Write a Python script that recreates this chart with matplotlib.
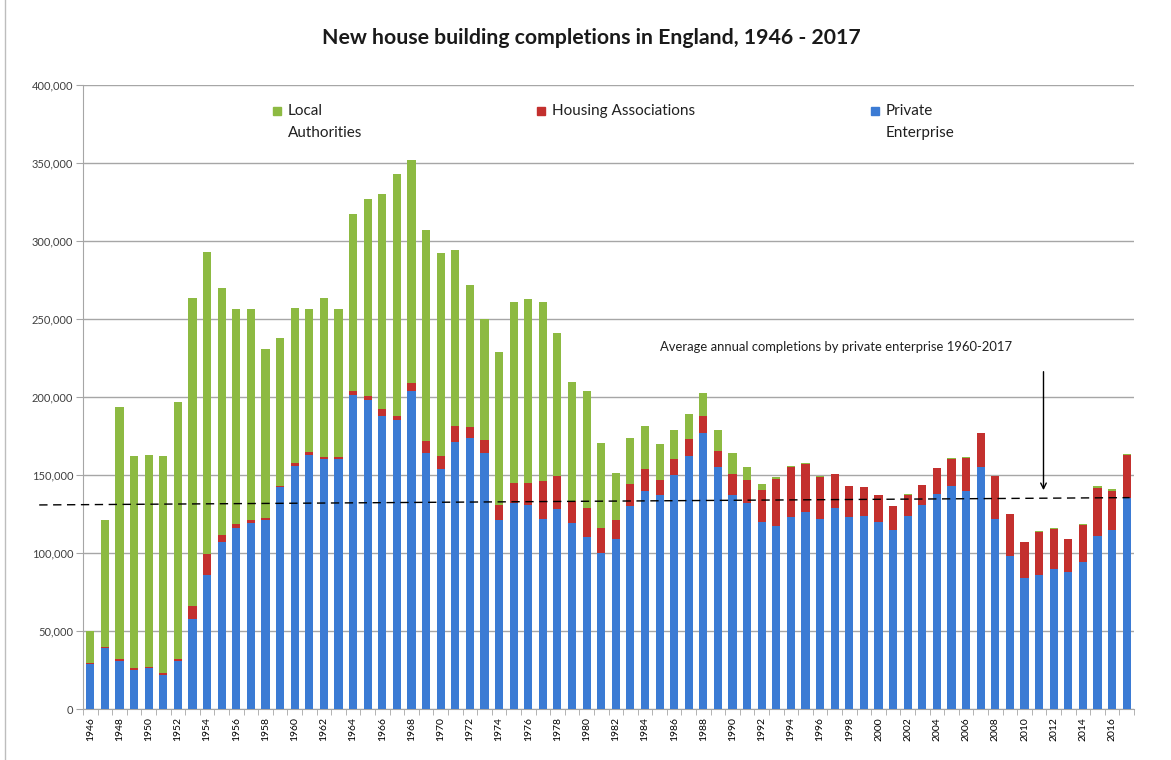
import matplotlib
matplotlib.use("Agg")
import matplotlib.pyplot as plt
from matplotlib.lines import Line2D
from matplotlib.patches import Rectangle
from matplotlib.ticker import FuncFormatter
import numpy as np

plt.rcParams['font.family'] = ['Lato', 'DejaVu Sans']

years = list(range(1946, 2018))

# completions in thousands
private = [29, 39, 31, 25, 26, 22, 31, 58, 86, 107, 116, 119, 121, 142,
           156, 163, 160, 160, 201, 198, 188, 185, 204, 164, 154, 171, 174, 164,
           121, 132, 131, 122, 128, 119, 110, 100, 109, 130, 140, 137, 150, 162,
           177, 155, 137, 132, 120, 117, 123, 126, 122, 129, 123, 124, 120, 115,
           124, 131, 138, 143, 140, 155, 122, 98, 84, 86, 90, 88, 94, 111, 115, 135]
housing_assoc = [0.5, 0.5, 1.3, 1.2, 1.2, 1.2, 1.3, 8, 13.6, 4.5, 2.6, 2, 1.2, 1,
                 2, 1.6, 1.5, 1.5, 2.9, 2.6, 4.5, 3, 4.7, 7.6, 7.9, 10.5, 6.5, 8.6,
                 9.7, 13, 13.9, 24, 21.5, 14.4, 19, 16.2, 12, 14.5, 14, 10, 10, 11,
                 10.5, 10.6, 13.6, 14.5, 20.6, 30.5, 32, 31, 27, 21.5, 20, 18, 17, 15,
                 13.5, 12.8, 16.4, 17.5, 21, 22, 27.3, 27.2, 22.8, 27.5, 25.5, 21, 24,
                 30.5, 24.5, 27.7]
local_auth = [20.2, 81.5, 161.4, 135.8, 135.8, 138.8, 164.7, 197.6, 193.4, 158.1,
              137.9, 135.5, 108.8, 95, 99, 91.9, 102.1, 95, 113.6, 126.4, 137.5, 155,
              143.3, 135.2, 130.1, 113, 91.5, 77.4, 98.3, 116, 117.7, 115, 91.5, 76,
              75, 54.5, 30.5, 29.5, 27.5, 22.6, 18.7, 16, 15, 13.4, 13.4, 8.5, 3.4,
              1.5, 1, 0.5, 0.3, 0.2, 0.1, 0.1, 0.1, 0.1, 0.1, 0.1, 0.1, 0.1, 0.3, 0.1,
              0.2, 0.1, 0.1, 0.8, 0.3, 0.2, 0.3, 1.5, 1.6, 0.5]

# dashed "average" line as drawn (slightly tilted in the source image)
avg_line_x = [1942.5, 2017.2]
avg_line_y = [130800, 135500]

blue = '#3b7bd4'
red = '#c3302e'
green = '#8dba42'
grid_c = '#a6a6a6'

x = np.array(years)
p = np.array(private) * 1000
h = np.array(housing_assoc) * 1000
l = np.array(local_auth) * 1000

fig = plt.figure(figsize=(11.71, 7.6), dpi=100)
ax = fig.add_axes([83 / 1171, 51 / 760, 1051 / 1171, 624 / 760])

w = 0.56
ax.bar(x, p, width=w, color=blue, zorder=3)
ax.bar(x, h, width=w, bottom=p, color=red, zorder=3)
ax.bar(x, l, width=w, bottom=p + h, color=green, zorder=3)

ax.set_xlim(1945.5, 2017.5)
ax.set_ylim(0, 400000)
ax.set_yticks(np.arange(0, 400001, 50000))
ax.yaxis.set_major_formatter(FuncFormatter(lambda v, pos: f"{int(v):,}"))
ax.grid(axis='y', color=grid_c, lw=1, zorder=0)

ax.set_xticks(years[::2])
ax.set_xticklabels([str(y) for y in years[::2]], rotation=90, fontsize=7.5)
ax.set_xticks(np.arange(1945.5, 2018, 1), minor=True)
ax.tick_params(axis='x', which='major', length=0, pad=6)
ax.tick_params(axis='x', which='minor', length=4, color=grid_c)
ax.tick_params(axis='y', length=5, color=grid_c, labelsize=8, pad=2,
               labelcolor='#404040')

for s in ['top', 'right']:
    ax.spines[s].set_visible(False)
for s in ['left', 'bottom']:
    ax.spines[s].set_color(grid_c)

# average line and annotation
ax.plot(avg_line_x, avg_line_y, color='black', ls=(0, (6, 4)), lw=1,
        zorder=4, clip_on=False)
ax.annotate('', xy=(2011.3, 138500), xytext=(2011.3, 218000),
            arrowprops=dict(arrowstyle='->', color='black', lw=1), zorder=5)
ax.text(1985.0, 232000,
        'Average annual completions by private enterprise 1960-2017',
        fontsize=9.4, ha='left', va='center', color='#202020')

fig.suptitle('New house building completions in England, 1946 - 2017',
             x=591 / 1171, y=1 - 38 / 760, fontsize=15.3, fontweight='bold',
             va='center', color='#1a1a1a')

# legend drawn by hand to keep the two-line labels aligned as in the source
legend_items = [(273, green, 'Local', 'Authorities'),
                (537, red, 'Housing Associations', None),
                (871, blue, 'Private', 'Enterprise')]
for px, col, line1, line2 in legend_items:
    fig.add_artist(Rectangle((px / 1171, 1 - 115 / 760), 8 / 1171, 8 / 760,
                             color=col, transform=fig.transFigure))
    fig.text((px + 15) / 1171, 1 - 111 / 760, line1, fontsize=11,
             va='center', ha='left', color='#202020')
    if line2:
        fig.text((px + 15) / 1171, 1 - 133 / 760, line2, fontsize=11,
                 va='center', ha='left', color='#202020')

fig.add_artist(Line2D([5 / 1171, 5 / 1171], [0, 1], color='#bdbdbd', lw=1,
                      transform=fig.transFigure))

fig.savefig('out.png', dpi=100)
